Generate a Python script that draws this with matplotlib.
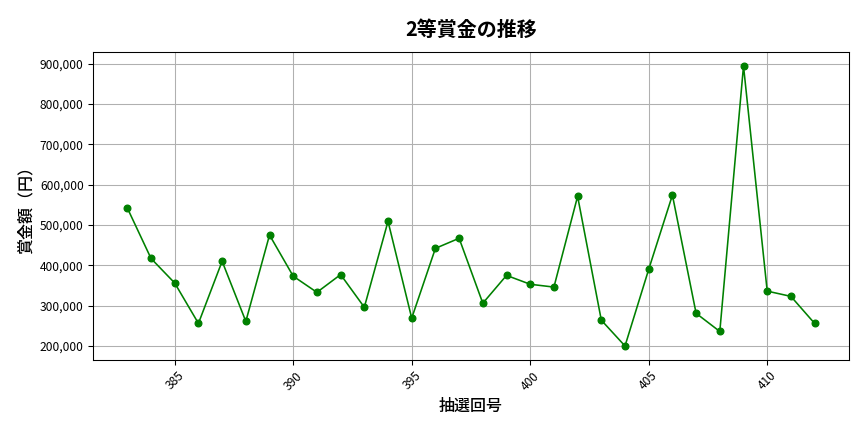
import matplotlib
matplotlib.use("Agg")
import matplotlib.pyplot as plt
from matplotlib.ticker import FuncFormatter

plt.rcParams['font.family'] = ['Noto Sans CJK JP', 'DejaVu Sans']

draws = list(range(383, 413))
prizes = [542000, 417000, 356000, 256000, 410000, 261000, 475000, 373000, 333000, 377000,
          296000, 509000, 269000, 442000, 467000, 306000, 375000, 353000, 346000, 571000,
          264000, 200000, 390000, 574000, 281000, 236000, 894000, 336000, 323000, 256000]

title = "2等賞金の推移"
xlabel = "抽選回号"
ylabel = "賞金額（円）"

fig, ax = plt.subplots(figsize=(9, 4.5), dpi=96)
ax.plot(draws, prizes, color='green', marker='o', markersize=5, linewidth=1.2)
ax.set_title(title, fontsize=15, fontweight='bold', pad=12)
ax.set_xlabel(xlabel, fontsize=12, fontweight='medium')
ax.set_ylabel(ylabel, fontsize=12, fontweight='medium')
ax.yaxis.set_major_formatter(FuncFormatter(lambda v, p: f"{int(v):,}"))
ax.tick_params(axis='x', labelrotation=45, labelsize=9)
ax.tick_params(axis='y', labelsize=9)
ax.grid(True, color='#b0b0b0', linewidth=0.8)
fig.subplots_adjust(left=0.1076, right=0.9826, top=0.8796, bottom=0.1667)
fig.savefig("out.png", dpi=96)
